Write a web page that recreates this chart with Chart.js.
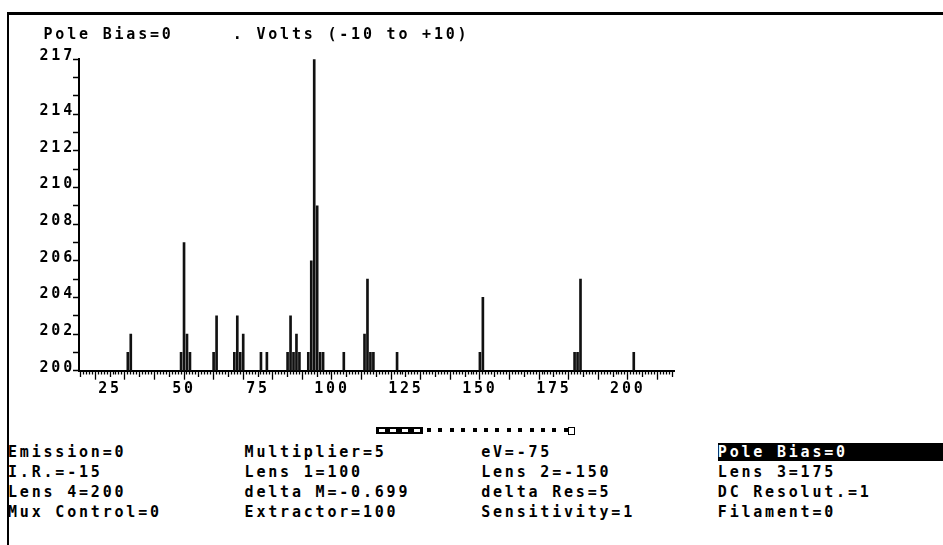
<!DOCTYPE html>
<html>
<head>
<meta charset="utf-8">
<script src="https://cdn.jsdelivr.net/npm/chart.js@4.4.0/dist/chart.umd.min.js"></script>
<style>
  html, body { margin: 0; padding: 0; background: #fff; }
  body {
    width: 943px; height: 545px; position: relative; overflow: hidden;
    font-family: 'DejaVu Sans Mono', monospace; font-weight: bold; font-size: 15px;
    letter-spacing: 2.8px; color: #000;
  }
  #frame { position: absolute; left: 7px; top: 12px; right: -5px; bottom: -5px; border-left: 2px solid #000; border-top: 3px solid #000; }
  #chartBox { position: absolute; left: 0; top: 0; width: 700px; height: 400px; }
  .cell { position: absolute; white-space: pre; line-height: 20px; }
  .inv { background: #000; color: #fff; }
  .mk { position: absolute; }
</style>
</head>
<body>
<div id="frame"></div>
<div id="chartBox"><canvas id="scan"></canvas></div>
<div id="meter"></div>
<div id="panel"></div>
<script>
// mass peaks
const masses      = [31, 32, 49, 50, 51, 52, 60, 61, 67, 68, 69, 70, 76, 78, 85, 86, 87, 88, 89,
                     92, 93, 94, 95, 96, 97, 104, 111, 112, 113, 114, 122, 150, 151, 182, 183, 184, 202];
const intensities = [201, 202, 201, 207, 202, 201, 201, 203, 201, 203, 201, 202, 201, 201, 201, 203, 201, 202, 201,
                     201, 206, 217, 209, 201, 201, 201, 202, 205, 201, 201, 201, 201, 204, 201, 201, 205, 201];

const xLabelValues = [25, 50, 75, 100, 125, 150, 175, 200];
const yLabelValues = [200, 202, 204, 206, 208, 210, 212, 214, 217];
// screen text sits on the 80 column grid, title starts in column 3
const titleText = '   Pole Bias=0     . Volts (-10 to +10)';

// status panel, 4 columns of 20 chars
const panelRows = [
    ['Emission=0', 'Multiplier=5', 'eV=-75', 'Pole Bias=0'],
    ['I.R.=-15', 'Lens 1=100', 'Lens 2=-150', 'Lens 3=175'],
    ['Lens 4=200', 'delta M=-0.699', 'delta Res=5', 'DC Resolut.=1'],
    ['Mux Control=0', 'Extractor=100', 'Sensitivity=1', 'Filament=0']
];
const selectedCell = [0, 3];
const meterDone = 4;
const meterSteps = 13;

const dosFont = { family: "'DejaVu Sans Mono', monospace", size: 15, weight: 'bold', lineHeight: 1 };

// canvas text gets the same wide DOS pitch as the html text
const dosSpacing = {
    id: 'dosSpacing',
    beforeLayout(chart) { chart.ctx.letterSpacing = '2.8px'; },
    beforeDraw(chart) { chart.ctx.letterSpacing = '2.8px'; }
};

function buildChart() {
    const ctx = document.getElementById('scan').getContext('2d');
    new Chart(ctx, {
        type: 'bar',
        data: {
            datasets: [{
                data: masses.map((m, i) => ({ x: m, y: intensities[i] })),
                backgroundColor: '#111',
                borderWidth: 0,
                barThickness: 2
            }]
        },
        options: {
            responsive: true,
            maintainAspectRatio: false,
            animation: false,
            layout: { padding: { left: 8, right: 26, top: 20, bottom: 0 } },
            plugins: {
                legend: { display: false },
                tooltip: { enabled: false },
                title: {
                    display: true,
                    text: titleText,
                    align: 'start',
                    color: '#000',
                    font: dosFont,
                    padding: { top: 7.5, bottom: 16.8 }
                }
            },
            scales: {
                x: {
                    type: 'linear',
                    min: 14.5,
                    max: 215.6,
                    offset: false,
                    afterBuildTicks: s => {
                        s.ticks = [];
                        for (let v = 15; v <= 215; v++) s.ticks.push({ value: v });
                    },
                    afterFit: s => { s.height = 29.3; },
                    grid: {
                        drawOnChartArea: false,
                        offset: false,
                        tickLength: 9,
                        tickColor: '#000',
                        tickWidth: 1.3,
                        tickBorderDash: c => {
                            if (!c.tick) return [];
                            const v = c.tick.value;
                            if (v % 10 === 0) return [];
                            return v % 5 === 0 ? [5, 20] : [2.5, 20];
                        }
                    },
                    border: { color: '#000', width: 2 },
                    ticks: {
                        autoSkip: false,
                        maxRotation: 0,
                        padding: 1.5,
                        color: '#000',
                        font: dosFont,
                        callback: v => xLabelValues.includes(v) ? String(v) : ''
                    }
                },
                y: {
                    min: 200,
                    max: 217,
                    afterBuildTicks: s => {
                        s.ticks = [];
                        for (let v = 200; v <= 217; v++) s.ticks.push({ value: v });
                    },
                    afterFit: s => { s.width = 71; },
                    grid: { drawOnChartArea: false, tickLength: 6, tickColor: '#000', tickWidth: 1.5 },
                    border: { color: '#000', width: 2 },
                    ticks: {
                        autoSkip: false,
                        padding: -2,
                        labelOffset: -3,
                        color: '#000',
                        font: dosFont,
                        callback: v => yLabelValues.includes(v) ? String(v) : ''
                    }
                }
            }
        },
        plugins: [dosSpacing]
    });
}

function buildPanel() {
    const panel = document.getElementById('panel');
    const colX = [8, 244.6, 481.2, 717.8];
    panelRows.forEach((row, r) => {
        row.forEach((txt, c) => {
            const d = document.createElement('div');
            d.className = 'cell';
            d.style.left = colX[c] + 'px';
            d.style.top = (442 + r * 20) + 'px';
            if (r === selectedCell[0] && c === selectedCell[1]) {
                const s = document.createElement('span');
                s.className = 'inv';
                s.textContent = txt.padEnd(20, ' ');
                d.appendChild(s);
            } else {
                d.textContent = txt;
            }
            panel.appendChild(d);
        });
    });
}

function box(parent, x, y, w, h, style) {
    const d = document.createElement('div');
    d.className = 'mk';
    d.style.cssText += `left:${x}px;top:${y}px;width:${w}px;height:${h}px;` + style;
    parent.appendChild(d);
}

function buildMeter() {
    const m = document.getElementById('meter');
    // finished steps: inverse block
    box(m, 376, 426.5, meterDone * 11.75, 7, 'background:#000;');
    for (let i = 0; i < meterDone; i++) {
        box(m, 378.5 + i * 11.75, 428.5, 6, 3, 'background:#fff;');
    }
    for (let i = 0; i < meterSteps; i++) {
        box(m, 427 + i * 11.4, 428, 4, 4, 'background:#000;');
    }
    box(m, 568, 426.5, 5, 6, 'border:1px solid #000;');
}

buildChart();
buildPanel();
buildMeter();
</script>
</body>
</html>
